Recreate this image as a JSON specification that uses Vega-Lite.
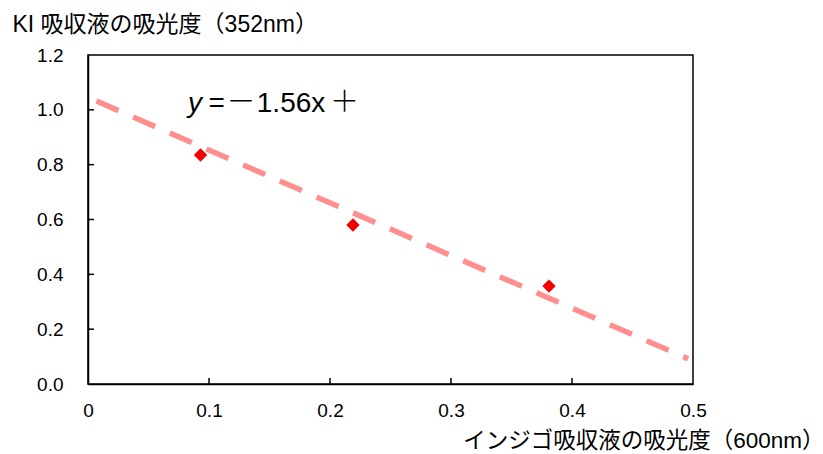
{
  "$schema": "https://vega.github.io/schema/vega-lite/v6.json",
  "autosize": "none",
  "width": 605,
  "height": 329,
  "padding": {"left": 88, "top": 55, "right": 130, "bottom": 70},
  "background": "white",
  "config": {
    "view": {"stroke": "#000000", "strokeWidth": 1.5},
    "font": "Liberation Sans"
  },
  "datasets": {
    "points": [
      {"x": 0.093, "y": 0.835},
      {"x": 0.219, "y": 0.58},
      {"x": 0.381, "y": 0.357}
    ],
    "trend": [
      {"x": 0.007, "y": 1.032},
      {"x": 0.496, "y": 0.092}
    ],
    "xticks": [{"x": 0.1, "y": 0}, {"x": 0.2, "y": 0}, {"x": 0.3, "y": 0}, {"x": 0.4, "y": 0}],
    "yticks": [{"x": 0, "y": 0.2}, {"x": 0, "y": 0.4}, {"x": 0, "y": 0.6}, {"x": 0, "y": 0.8}, {"x": 0, "y": 1.0}],
    "eq": [
      {"x": 0.0826, "y": 0.992, "t": "y", "part": "italic"},
      {"x": 0.0995, "y": 0.992, "t": "=", "part": "latin"},
      {"x": 0.1145, "y": 0.992, "t": "－", "part": "cjk"},
      {"x": 0.1395, "y": 0.992, "t": "1.56x", "part": "latin"},
      {"x": 0.2, "y": 0.992, "t": "＋", "part": "cjk"}
    ]
  },
  "layer": [
    {
      "data": {"name": "trend"},
      "mark": {"type": "line", "color": "#ff8f8f", "strokeWidth": 5.5, "strokeDash": [24, 16], "clip": true},
      "encoding": {
        "x": {
          "field": "x", "type": "quantitative",
          "scale": {"domain": [0, 0.5], "nice": false},
          "axis": {
            "values": [0, 0.1, 0.2, 0.3, 0.4, 0.5],
            "labelExpr": "datum.value == 0 ? '0' : format(datum.value, '.1f')",
            "grid": false, "ticks": false, "labelFlush": false,
            "domainColor": "#000000", "domainWidth": 1.5,
            "labelFontSize": 19, "labelColor": "#000000", "labelPadding": 17,
            "labelFont": "Liberation Sans",
            "title": "インジゴ吸収液の吸光度（600nm）",
            "titleFont": "Liberation Sans, Noto Sans CJK JP", "titleFontSize": 22.5, "titleFontWeight": "normal",
            "titleColor": "#000000",
            "titleAnchor": "end", "titleAlign": "right", "titleX": 736, "titleY": 56,
            "titleBaseline": "middle"
          }
        },
        "y": {
          "field": "y", "type": "quantitative",
          "scale": {"domain": [0, 1.2], "nice": false},
          "axis": {
            "values": [0, 0.2, 0.4, 0.6, 0.8, 1.0, 1.2],
            "format": ".1f",
            "grid": false, "ticks": false,
            "domainColor": "#000000", "domainWidth": 1.5,
            "labelFontSize": 19, "labelColor": "#000000", "labelPadding": 25,
            "labelFont": "Liberation Sans",
            "title": "KI 吸収液の吸光度（352nm）",
            "titleFont": "Liberation Sans, Noto Sans CJK JP", "titleFontSize": 23, "titleFontWeight": "normal",
            "titleColor": "#000000",
            "titleAngle": 0, "titleAlign": "left", "titleX": -76, "titleY": -31,
            "titleBaseline": "middle"
          }
        }
      }
    },
    {
      "data": {"name": "xticks"},
      "mark": {"type": "tick", "orient": "vertical", "color": "#000000", "thickness": 1.5, "size": 6, "yOffset": -3, "opacity": 1},
      "encoding": {
        "x": {"field": "x", "type": "quantitative"},
        "y": {"field": "y", "type": "quantitative"}
      }
    },
    {
      "data": {"name": "yticks"},
      "mark": {"type": "tick", "orient": "horizontal", "color": "#000000", "thickness": 1.5, "size": 6, "xOffset": 3, "opacity": 1},
      "encoding": {
        "x": {"field": "x", "type": "quantitative"},
        "y": {"field": "y", "type": "quantitative"}
      }
    },
    {
      "data": {"name": "points"},
      "mark": {"type": "point", "shape": "diamond", "filled": true, "color": "#f00000", "size": 180, "opacity": 1},
      "encoding": {
        "x": {"field": "x", "type": "quantitative"},
        "y": {"field": "y", "type": "quantitative"}
      }
    },
    {
      "data": {"name": "eq"},
      "transform": [{"filter": "datum.part == 'italic'"}],
      "mark": {"type": "text", "align": "left", "baseline": "alphabetic", "fontSize": 28, "fontStyle": "italic", "color": "#000000", "font": "Liberation Sans"},
      "encoding": {
        "x": {"field": "x", "type": "quantitative"},
        "y": {"field": "y", "type": "quantitative"},
        "text": {"field": "t"}
      }
    },
    {
      "data": {"name": "eq"},
      "transform": [{"filter": "datum.part == 'latin'"}],
      "mark": {"type": "text", "align": "left", "baseline": "alphabetic", "fontSize": 28, "color": "#000000", "font": "Liberation Sans"},
      "encoding": {
        "x": {"field": "x", "type": "quantitative"},
        "y": {"field": "y", "type": "quantitative"},
        "text": {"field": "t"}
      }
    },
    {
      "data": {"name": "eq"},
      "transform": [{"filter": "datum.part == 'cjk'"}],
      "mark": {"type": "text", "align": "left", "baseline": "alphabetic", "fontSize": 29, "color": "#000000", "font": "Noto Sans CJK JP", "fontWeight": 300},
      "encoding": {
        "x": {"field": "x", "type": "quantitative"},
        "y": {"field": "y", "type": "quantitative"},
        "text": {"field": "t"}
      }
    }
  ]
}
